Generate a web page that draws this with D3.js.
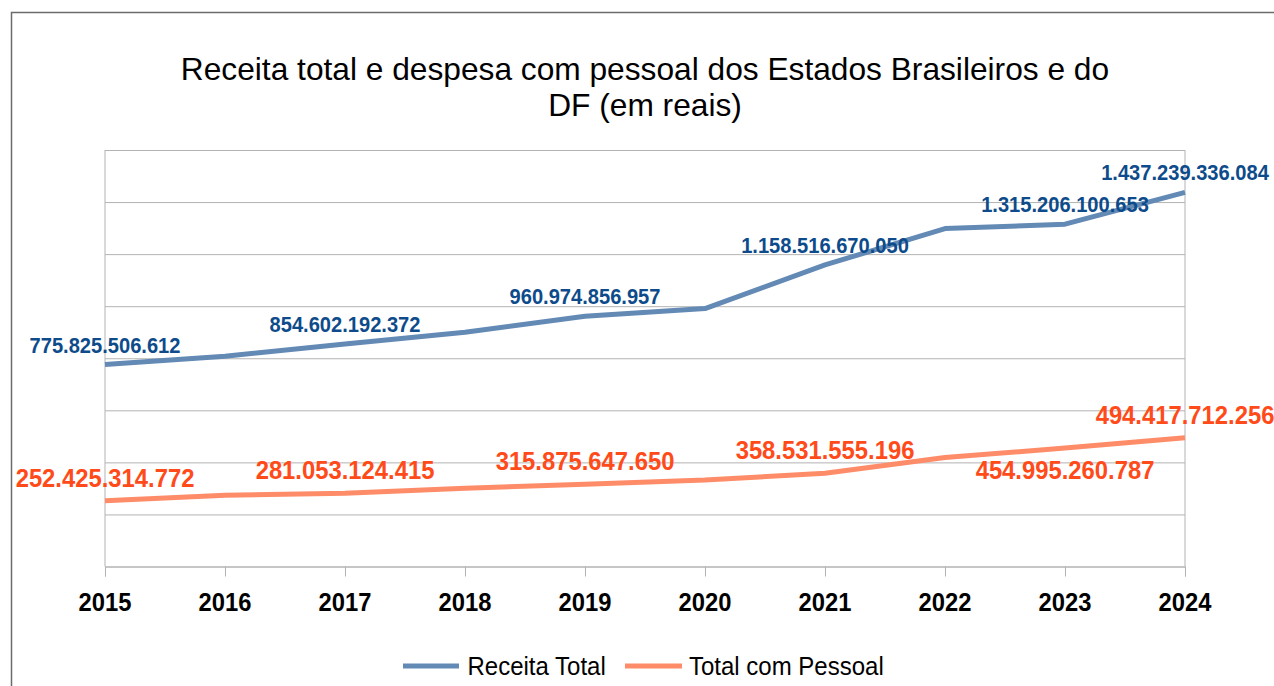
<!DOCTYPE html>
<html>
<head>
<meta charset="utf-8">
<script src="https://cdn.jsdelivr.net/npm/d3@7"></script>
<style>
  body { margin: 0; background: #fff; }
  svg { display: block; font-family: "Liberation Sans", Arial, sans-serif; }
</style>
</head>
<body>
<div id="graph"></div>
<script>
// data (reais)
const years = [2015, 2016, 2017, 2018, 2019, 2020, 2021, 2022, 2023, 2024];
const receitaTotal = [775825506612, 808000000000, 854602192372, 900000000000, 960974856957,
  991000000000, 1158516670050, 1298000000000, 1315206100653, 1437239336084];
const totalPessoal = [252425314772, 274000000000, 281053124415, 301000000000, 315875647650,
  332000000000, 358531555196, 419000000000, 454995260787, 494417712256];
const labeledYears = [2015, 2017, 2019, 2021, 2023, 2024];
const pessoalBelow = [2023];
const yTicks = [0, 2e11, 4e11, 6e11, 8e11, 1e12, 1.2e12, 1.4e12, 1.6e12];

const width = 1274, height = 686;
const plot = { left: 105, right: 1185, top: 150, bottom: 566.5 };

const svg = d3.select('#graph')
  .append('svg')
  .attr('width', width)
  .attr('height', height);

// outer frame (runs past the window edge as in the original)
svg.append('rect')
  .attr('x', 11.5).attr('y', 12.5)
  .attr('width', 1320).attr('height', 720)
  .attr('fill', 'none')
  .attr('stroke', '#6b6b6b')
  .attr('stroke-width', 1.5);

let x = d3.scalePoint()
  .domain(years)
  .range([plot.left, plot.right]);

let y = d3.scaleLinear()
  .domain([0, 1.6e12])
  .range([plot.bottom, plot.top]);

const br = d3.formatLocale({ decimal: ',', thousands: '.', grouping: [3], currency: ['R$', ''] });
const fmt = br.format(',d');

// gridlines
svg.append('g')
  .attr('transform', `translate(${plot.left}, 0)`)
  .call(d3.axisLeft(y).tickValues(yTicks).tickSize(-(plot.right - plot.left)).tickFormat(''))
  .call(g => g.select('.domain').remove())
  .call(g => g.selectAll('.tick line').attr('stroke', '#b3b3b3').attr('stroke-width', 1));

// side borders of plot
[plot.left, plot.right].forEach(px => {
  svg.append('line')
    .attr('x1', px).attr('x2', px)
    .attr('y1', plot.top).attr('y2', plot.bottom)
    .attr('stroke', '#b3b3b3');
});

// x axis
let xAxis = svg.append('g')
  .attr('transform', `translate(0, ${plot.bottom})`)
  .call(d3.axisBottom(x).tickSize(10).tickPadding(0).tickFormat(''));
xAxis.select('.domain').attr('stroke', '#b3b3b3');
xAxis.selectAll('.tick line').attr('stroke', '#b3b3b3');

function squeezed(sel, sx) {
  return sel.attr('transform', d => `translate(${d.x}, ${d.y}) scale(${sx}, 1)`);
}

svg.append('g').selectAll('text')
  .data(years.map(yr => ({ x: x(yr), y: 610.5, t: yr })))
  .enter()
  .append('text')
  .call(squeezed, 0.95)
  .style('text-anchor', 'middle')
  .style('font-weight', 'bold')
  .style('font-size', '25px')
  .attr('fill', '#000')
  .text(d => d.t);

// title
let title = svg.append('text')
  .attr('x', 645)
  .attr('y', 80)
  .style('text-anchor', 'middle')
  .style('font-size', '31.7px')
  .attr('fill', '#000');
title.append('tspan').attr('x', 645).text('Receita total e despesa com pessoal dos Estados Brasileiros e do');
title.append('tspan').attr('x', 645).attr('dy', 36).text('DF (em reais)');

const series = [
  { name: 'Receita Total', values: receitaTotal, line: '#6389b5', label: '#0d4b8b', size: 21.4, sx: 0.94 },
  { name: 'Total com Pessoal', values: totalPessoal, line: '#ff8c69', label: '#ff4a1a', size: 25.6, sx: 0.93 }
];

let line = d3.line()
  .x((d, i) => x(years[i]))
  .y(d => y(d));

series.forEach(s => {
  svg.append('path')
    .datum(s.values)
    .attr('fill', 'none')
    .attr('stroke', s.line)
    .attr('stroke-width', 5)
    .attr('stroke-linejoin', 'round')
    .attr('d', line);
});

series.forEach((s, k) => {
  let pts = years.map((yr, i) => ({ yr: yr, v: s.values[i] }))
    .filter(d => labeledYears.includes(d.yr))
    .map(d => {
      let below = k === 1 && pessoalBelow.includes(d.yr);
      return { x: x(d.yr), y: y(d.v) + (below ? 31 : (k === 0 ? -12 : -14)), t: fmt(d.v) };
    });
  svg.append('g').selectAll('text')
    .data(pts)
    .enter()
    .append('text')
    .call(squeezed, s.sx)
    .style('text-anchor', 'middle')
    .style('font-weight', 'bold')
    .style('font-size', s.size + 'px')
    .attr('fill', s.label)
    .text(d => d.t);
});

// legend
const legendItems = [
  { x0: 403, x1: 459, tx: 467.5, color: series[0].line, name: series[0].name },
  { x0: 625, x1: 682, tx: 689, color: series[1].line, name: series[1].name }
];
let legend = svg.append('g');
legendItems.forEach(d => {
  legend.append('line')
    .attr('x1', d.x0).attr('x2', d.x1)
    .attr('y1', 666).attr('y2', 666)
    .attr('stroke', d.color)
    .attr('stroke-width', 5);
  legend.append('text')
    .attr('transform', `translate(${d.tx}, 675) scale(0.96, 1)`)
    .style('font-size', '25px')
    .attr('fill', '#000')
    .text(d.name);
});
</script>
</body>
</html>
